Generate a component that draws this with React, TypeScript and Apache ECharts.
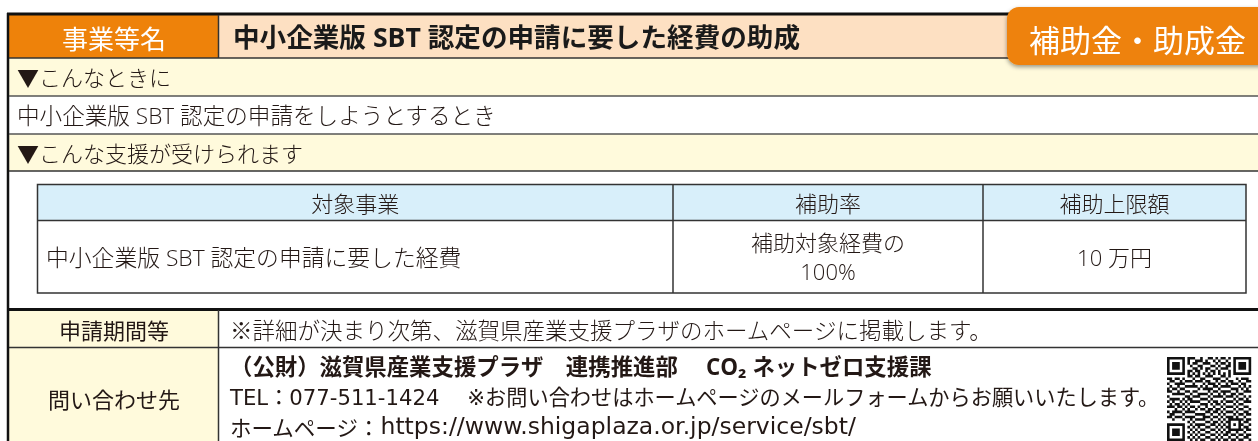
import React, { useEffect, useRef } from "react";
import * as echarts from "echarts";

const FONT = '"Open Sans", "Noto Sans CJK JP", "Noto Sans", sans-serif';
const CJK = '"Noto Sans CJK JP", "Noto Sans", sans-serif';
const WIDE = '"DejaVu Sans", "Noto Sans CJK JP", sans-serif';

const headerLabel = "事業等名";
const programTitle = "中小企業版 SBT 認定の申請に要した経費の助成";
const badgeLabel = "補助金・助成金";
const sectionLabels = ["▼こんなときに", "▼こんな支援が受けられます"];
const whenText = "中小企業版 SBT 認定の申請をしようとするとき";
const tableHeaders = ["対象事業", "補助率", "補助上限額"];
const tableRow = ["中小企業版 SBT 認定の申請に要した経費", "補助対象経費の", "100%", "10 万円"];
const infoLabels = ["申請期間等", "問い合わせ先"];
const periodText = "※詳細が決まり次第、滋賀県産業支援プラザのホームページに掲載します。";
const contactTitle = "（公財）滋賀県産業支援プラザ　連携推進部　 CO₂ ネットゼロ支援課";
const telLine = "TEL：077-511-1424　 ※お問い合わせはホームページのメールフォームからお願いいたします。";
const homeLabel = "ホームページ：";
const homeUrl = "https://www.shigaplaza.or.jp/service/sbt/";

const qrRows = [
  "100110101110010011010110100101101",
  "011010011001110100101001011100110",
  "110001101011001110010110100011011",
  "001110010100110001101001110100100",
  "101001110011010110010111001011010",
  "010111001101100101101000110110101",
  "111000110010011010011101001001110",
  "000101011101100111000110111010001",
  "110110100010011000111001000101110",
  "011001011101110110010110110010011",
  "100111100010001011101001011101100",
  "010010011111010100110111100010101",
  "101101100000101111001000011101010",
  "110010111011000010110111100100111",
  "001111000100111101001010011011000",
  "100000111011100010111101110100101",
  "011110001100011101000010001011010",
  "101001110111100010110101110100111",
  "010110001000011101011010001011000",
  "111011110110100100100101110100110",
  "000100001001011011011010001011001",
  "101111011110000110110101110100110",
  "011000100001111001001010001011011",
  "110111011110001110110101110100100",
  "001000100101111001001010011011011",
  "100111011010000110110101100100110",
  "010000100101111001101010011011001",
  "101111011010100110010101100100110",
  "011000100101011001101010011011011",
  "110111011010100110010101100100100",
  "001000100101011001101011011011011",
  "100111011010100110010100100100110",
  "010000100101011001101011011011001",
];

function buildQrPath(): string {
  const n = qrRows.length;
  const m: number[][] = qrRows.map((r) => r.split("").map((c) => (c === "1" ? 1 : 0)));
  const finder = (r0: number, c0: number) => {
    for (let r = -1; r <= 7; r++)
      for (let c = -1; c <= 7; c++) {
        const rr = r0 + r, cc = c0 + c;
        if (rr < 0 || cc < 0 || rr >= n || cc >= n) continue;
        let v = 0;
        if (r >= 0 && r <= 6 && c >= 0 && c <= 6) {
          const ring = Math.min(r, c, 6 - r, 6 - c);
          v = ring === 1 ? 0 : 1;
        }
        m[rr][cc] = v;
      }
  };
  finder(0, 0);
  finder(0, n - 7);
  finder(n - 7, 0);
  for (let i = 8; i < n - 8; i++) {
    m[6][i] = i % 2 === 0 ? 1 : 0;
    m[i][6] = i % 2 === 0 ? 1 : 0;
  }
  const a = n - 7;
  for (let r = -2; r <= 2; r++)
    for (let c = -2; c <= 2; c++) {
      const ring = Math.max(Math.abs(r), Math.abs(c));
      m[a + r][a + c] = ring === 1 ? 0 : 1;
    }
  let d = "";
  for (let r = 0; r < n; r++)
    for (let c = 0; c < n; c++)
      if (m[r][c]) d += `M${c} ${r}h1.02v1.02h-1.02Z`;
  return d;
}

export default function App() {
  const ref = useRef<HTMLDivElement>(null);
  useEffect(() => {
    document.body.style.margin = "0";
    echarts.graphic.registerShape("qrcode", echarts.graphic.extendPath(buildQrPath(), {}) as any);
    const chart = echarts.init(ref.current!, undefined, { renderer: "svg", width: 1258, height: 441 });
    const g: any[] = [];
    const rect = (x: number, y: number, w: number, h: number, fill: string, z = 1) =>
      g.push({ type: "rect", z, shape: { x, y, width: w, height: h }, style: { fill } });
    const line = (x1: number, y1: number, x2: number, y2: number, stroke: string, lw: number, z = 3) =>
      g.push({ type: "line", z, shape: { x1, y1, x2, y2 }, style: { stroke, lineWidth: lw } });
    const text = (
      t: string, x: number, y: number, size: number,
      opts: { fill?: string; weight?: string | number; align?: string; z?: number; family?: string; rich?: any } = {}
    ) =>
      g.push({
        type: "text",
        z: opts.z ?? 4,
        x,
        y,
        style: {
          text: t,
          fill: opts.fill ?? "#231815",
          fontSize: size,
          fontFamily: opts.family ?? FONT,
          fontWeight: opts.weight ?? 300,
          align: opts.align ?? "left",
          textAlign: opts.align ?? "left",
          verticalAlign: "middle",
          textVerticalAlign: "middle",
          lineHeight: size,
          rich: opts.rich,
        },
      });

    const W = 1270;
    const orange = "#EE820A";
    const peach = "#FDE0C2";
    const cream = "#FFFADC";
    const blue = "#D8EFFA";
    const dark = "#333333";

    // backgrounds
    rect(0, 0, 1258, 441, "#ffffff", 0);
    rect(9, 15, 210, 43, orange);
    rect(219, 15, W, 43, peach);
    rect(9, 58, W, 38, cream);
    rect(9, 134, W, 37, cream);
    rect(9, 310, 209, 140, cream);

    // table
    rect(37.5, 184.5, 1208.5, 36, blue, 2);
    g.push({
      type: "rect",
      z: 3,
      shape: { x: 37.5, y: 184.5, width: 1208.5, height: 108.5 },
      style: { fill: "none", stroke: dark, lineWidth: 1.5 },
    });
    line(37.5, 220.5, 1246, 220.5, dark, 1.5);
    line(673, 184.5, 673, 293, dark, 1.5);
    line(983, 184.5, 983, 293, dark, 1.5);

    // frame lines
    line(7, 14, 1258, 14, "#111", 3);
    line(8, 13, 8, 441, "#111", 2.5);
    line(218.5, 15, 218.5, 58, dark, 1.5);
    line(9, 58, 1258, 58, dark, 1.5);
    line(9, 96, 1258, 96, "#555", 1.5);
    line(9, 134, 1258, 134, "#555", 1.5);
    line(9, 171, 1258, 171, dark, 1.5);
    line(9, 309.5, 1258, 309.5, "#111", 3);
    line(9, 347.5, 1258, 347.5, dark, 1.5);
    line(218.5, 310, 218.5, 441, dark, 1.5);

    // header texts
    text(headerLabel, 114, 37, 26, { fill: "#ffffff", align: "center", weight: "normal", family: CJK });
    text(programTitle, 233, 37, 26.6, { weight: "bold", fill: "#1a1a1a" });

    // badge
    g.push({
      type: "rect",
      z: 6,
      shape: { x: 1007, y: 7, width: 300, height: 58, r: 12 },
      style: { fill: orange, shadowBlur: 4, shadowOffsetY: 2, shadowColor: "rgba(0,0,0,0.4)" },
    });
    text(badgeLabel, 1029, 38, 31, { fill: "#ffffff", z: 7, weight: "normal", family: CJK });

    // sections
    text(sectionLabels[0], 17, 77, 22);
    text(whenText, 17, 115, 22.6);
    text(sectionLabels[1], 17, 153, 22);

    // table texts
    text(tableHeaders[0], (37.5 + 673) / 2, 202.5, 22, { align: "center" });
    text(tableHeaders[1], (673 + 983) / 2, 202.5, 22, { align: "center" });
    text(tableHeaders[2], (983 + 1246) / 2, 202.5, 22, { align: "center" });
    text(tableRow[0], 46, 257, 22.8);
    text(tableRow[1], (673 + 983) / 2, 242, 22, { align: "center" });
    text(tableRow[2], (673 + 983) / 2, 270.5, 22, { align: "center" });
    text(tableRow[3], (983 + 1246) / 2, 257, 22, { align: "center" });

    // info rows
    text(infoLabels[0], 114, 329, 22, { align: "center", weight: "normal", family: CJK });
    text(infoLabels[1], 114, 398, 22, { align: "center", weight: "normal", family: CJK });
    text(periodText, 230, 329, 22.5, { family: CJK });
    text(contactTitle, 230, 366, 22.4, { weight: "bold" });
    text(telLine, 230, 397, 21.2, { family: WIDE, weight: "normal" });
    text(`{a|${homeLabel}}{b|${homeUrl}}`, 230, 426, 21.5, {
      family: WIDE,
      weight: "normal",
      rich: {
        a: { fontSize: 21.5, fontFamily: CJK, fontWeight: "normal", fill: "#231815", lineHeight: 24 },
        b: { fontSize: 23.5, fontFamily: WIDE, fontWeight: "normal", fill: "#231815", lineHeight: 24 },
      },
    });

    // QR code
    g.push({
      type: "qrcode",
      z: 5,
      x: 1167,
      y: 357,
      scaleX: 2.55,
      scaleY: 2.55,
      style: { fill: "#111111" },
    });

    chart.setOption({ animation: false, graphic: { elements: g } });
    return () => chart.dispose();
  }, []);
  return <div ref={ref} style={{ position: "fixed", left: 0, top: 0, width: 1258, height: 441 }} />;
}
